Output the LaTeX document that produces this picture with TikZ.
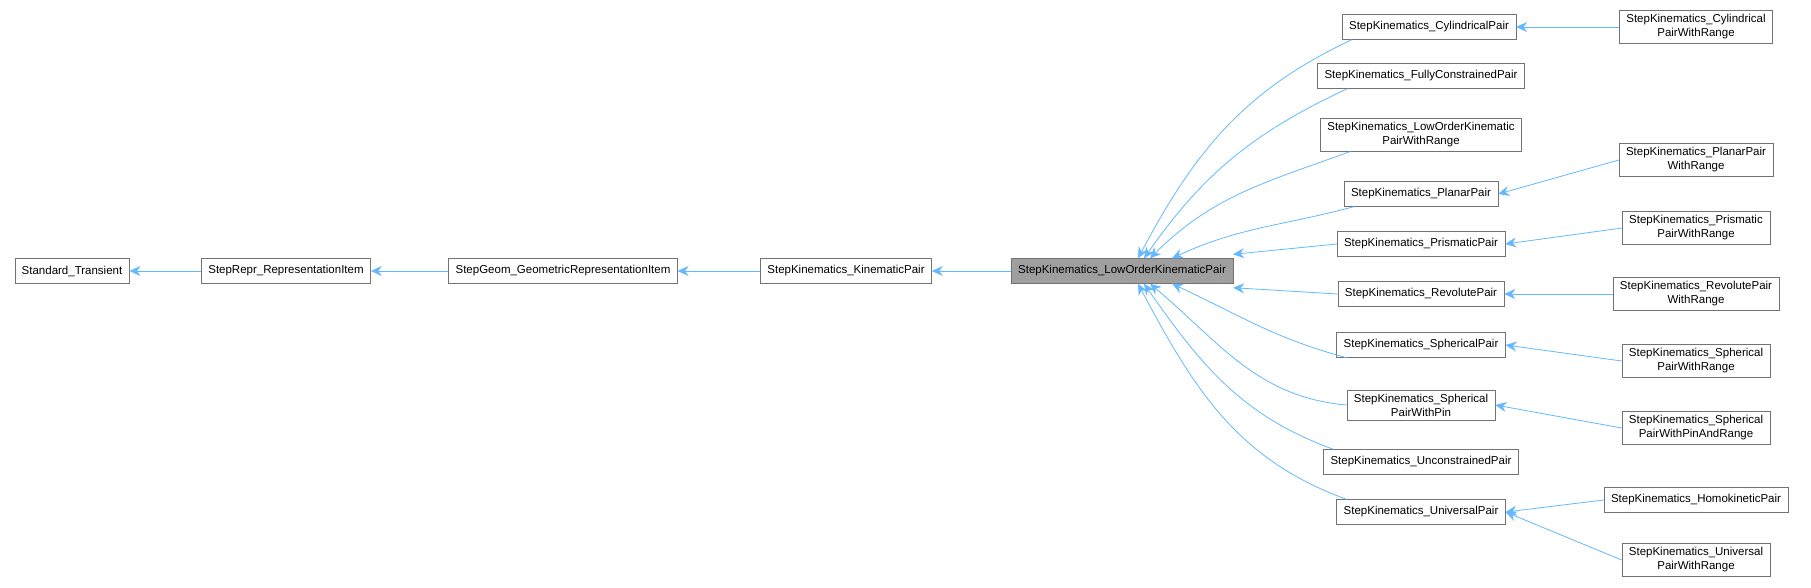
\documentclass[tikz,border=0pt]{standalone}
\usepackage{fontspec}
\setmainfont{Liberation Sans}
\usetikzlibrary{arrows.meta}
\definecolor{edgeblue}{HTML}{63B8FF}
\tikzset{
    cls/.style = {
        draw=gray!90!black,
        fill=white,
        font=\fontsize{11.5}{14}\selectfont,
        align=center,
        inner xsep=7pt,
        inner ysep=4pt,
        minimum height=25pt,
        },
    current/.style = {
        fill=gray!75,
        },
    edge/.style = {
        draw=edgeblue,
        thick,
        {Stealth[length=11pt,width=10pt]}-,
        },
}
\begin{document}
\begin{tikzpicture}[x=1pt,y=-1pt]
    \useasboundingbox (0,0) rectangle (1811,587);
    % main row
    \node [cls] (trans) at (72,271) {Standard\_Transient};
    \node [cls] (repr) at (286,271) {StepRepr\_RepresentationItem};
    \node [cls] (geom) at (563,271) {StepGeom\_GeometricRepresentationItem};
    \node [cls] (kin) at (846,271) {StepKinematics\_KinematicPair};
    \node [cls, current] (low) at (1122,271) {StepKinematics\_LowOrderKinematicPair};
    % middle column
    \node [cls] (cyl) at (1429,27) {StepKinematics\_CylindricalPair};
    \node [cls] (full) at (1421,76) {StepKinematics\_FullyConstrainedPair};
    \node [cls] (lowr) at (1421,135) {StepKinematics\_LowOrderKinematic\\PairWithRange};
    \node [cls] (plan) at (1421,194) {StepKinematics\_PlanarPair};
    \node [cls] (pris) at (1421,244) {StepKinematics\_PrismaticPair};
    \node [cls] (rev) at (1421,294) {StepKinematics\_RevolutePair};
    \node [cls] (sph) at (1421,345) {StepKinematics\_SphericalPair};
    \node [cls] (sphp) at (1421,405) {StepKinematics\_Spherical\\PairWithPin};
    \node [cls] (uncon) at (1421,462) {StepKinematics\_UnconstrainedPair};
    \node [cls] (univ) at (1421,512) {StepKinematics\_UniversalPair};
    % right column
    \node [cls] (cylr) at (1696,27) {StepKinematics\_Cylindrical\\PairWithRange};
    \node [cls] (planr) at (1696,160) {StepKinematics\_PlanarPair\\WithRange};
    \node [cls] (prisr) at (1696,228) {StepKinematics\_Prismatic\\PairWithRange};
    \node [cls] (revr) at (1696,294) {StepKinematics\_RevolutePair\\WithRange};
    \node [cls] (sphr) at (1696,361) {StepKinematics\_Spherical\\PairWithRange};
    \node [cls] (sphpr) at (1696,428) {StepKinematics\_Spherical\\PairWithPinAndRange};
    \node [cls] (homo) at (1696,500) {StepKinematics\_HomokineticPair};
    \node [cls] (univr) at (1696,560) {StepKinematics\_Universal\\PairWithRange};

    \draw [edge] (trans) -- (repr);
    \draw [edge] (repr) -- (geom);
    \draw [edge] (geom) -- (kin);
    \draw [edge] (kin) -- (low);

    \draw [edge] ([xshift=16pt]low.north) to[out=62,in=205] ([xshift=10pt]cyl.south west);
    \draw [edge] ([xshift=22pt]low.north) to[out=55,in=205] ([xshift=30pt]full.south west);
    \draw [edge] ([xshift=28pt]low.north) to[out=45,in=200] ([xshift=30pt]lowr.south west);
    \draw [edge] ([xshift=50pt]low.north) to[out=25,in=195] ([xshift=10pt]plan.south west);
    \draw [edge] ([yshift=4pt]low.north east) -- (pris.west);
    \draw [edge] ([yshift=-4pt]low.south east) -- (rev.west);
    \draw [edge] ([xshift=50pt]low.south) to[out=-25,in=165] ([xshift=10pt]sph.south west);
    \draw [edge] ([xshift=28pt]low.south) to[out=-40,in=175] (sphp.west);
    \draw [edge] ([xshift=22pt]low.south) to[out=-55,in=160] ([xshift=10pt]uncon.north west);
    \draw [edge] ([xshift=16pt]low.south) to[out=-62,in=160] ([xshift=10pt]univ.north west);

    \draw [edge] (cyl) -- (cylr);
    \draw [edge] (plan.east) -- (planr.west);
    \draw [edge] (pris.east) -- (prisr.west);
    \draw [edge] (rev) -- (revr);
    \draw [edge] (sph.east) -- (sphr.west);
    \draw [edge] (sphp.east) -- (sphpr.west);
    \draw [edge] (univ.east) -- (homo.west);
    \draw [edge] (univ.east) -- (univr.west);
\end{tikzpicture}
\end{document}
